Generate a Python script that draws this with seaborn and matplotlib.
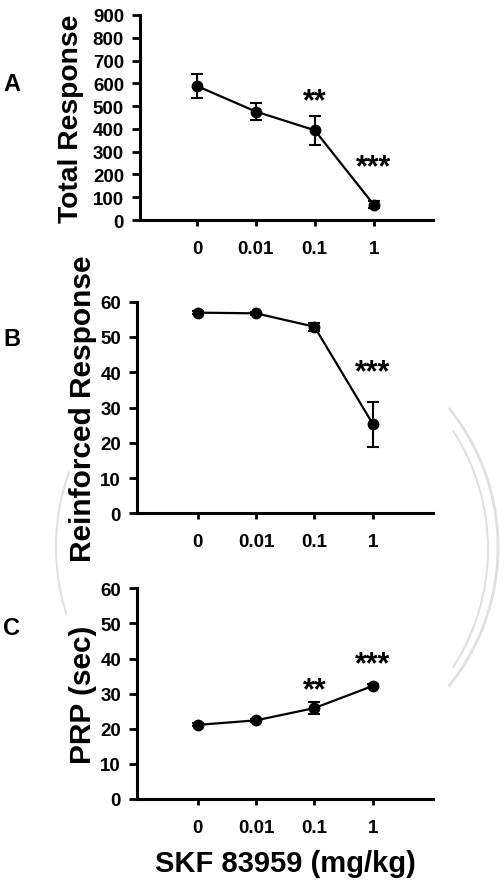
import numpy as np
import pandas as pd
import matplotlib.pyplot as plt
from matplotlib.patches import Arc
from matplotlib.transforms import IdentityTransform
import seaborn as sns

# doses (mg/kg) shown as equally spaced categories
doses = ["0", "0.01", "0.1", "1"]

# A: total responses (mean, SEM)
total_mean = [588, 476, 394, 68]
total_sem = [54, 37, 64, 15]
total_stars = ["", "", "**", "***"]
total_star_y = [0, 0, 487, 196]

# B: reinforced responses
reinf_mean = [56.9, 56.7, 52.9, 25.3]
reinf_sem = [0.4, 0.4, 1.2, 6.4]
reinf_stars = ["", "", "", "***"]
reinf_star_y = [0, 0, 0, 37.6]

# C: post-reinforcement pause
prp_mean = [21.1, 22.4, 25.9, 32.2]
prp_sem = [0.4, 0.5, 1.6, 0.6]
prp_stars = ["", "", "**", "***"]
prp_star_y = [0, 0, 28.8, 36.2]

sns.set_theme(style="ticks")
plt.rcParams['font.family'] = ['Liberation Sans', 'DejaVu Sans']
plt.rcParams['font.weight'] = 'bold'

W, H = 504, 887
fig = plt.figure(figsize=(W / 100, H / 100), dpi=100)

panels = [
    # letter, mean, sem, stars, star_y, ylabel, ymax, ystep, rect(px: left, top, right, bottom), xlim, label_x, label_size, letter_y
    ("A", total_mean, total_sem, total_stars, total_star_y, "Total Response", 900, 100,
     (140, 16, 433, 221), (-0.97, 4.01), -0.19, 20.3, 84.5),
    ("B", reinf_mean, reinf_sem, reinf_stars, reinf_star_y, "Reinforced Response", 60, 10,
     (137, 302.7, 433, 514.3), (-1.04, 4.03), -0.135, 21.5, 340),
    ("C", prp_mean, prp_sem, prp_stars, prp_star_y, "PRP (sec)", 60, 10,
     (137, 589.3, 433, 800), (-1.04, 4.03), -0.135, 21.5, 629),
]

axes = []
for letter, mean, sem, stars, star_y, ylab, ymax, ystep, rect, xlim, lab_x, lab_size, let_y in panels:
    l, t, r, b = rect
    ax = fig.add_axes([l / W, (H - b) / H, (r - l) / W, (b - t) / H])
    df = pd.DataFrame({"pos": np.arange(len(doses)), "mean": mean, "sem": sem})
    ax.errorbar(df["pos"], df["mean"], yerr=df["sem"], fmt="none", ecolor="black",
                elinewidth=1.5, capsize=4.5, capthick=1.5, zorder=2)
    sns.lineplot(data=df, x="pos", y="mean", ax=ax, color="black", linewidth=1.6,
                 marker="o", markersize=8.5, markeredgewidth=0, zorder=3)
    for i, s in enumerate(stars):
        if s:
            ax.text(df["pos"][i], star_y[i], s, ha="center", va="baseline",
                    fontsize=22, fontweight="bold", color="black")
    ax.set_xlim(*xlim)
    ax.set_ylim(0, ymax)
    ax.set_yticks(np.arange(0, ymax + 1, ystep))
    ax.set_xticks(df["pos"])
    ax.set_xticklabels(doses)
    ax.set_xlabel("")
    ax.set_ylabel(ylab, fontsize=lab_size, fontweight="bold", color="black")
    ax.yaxis.set_label_coords(lab_x, 0.5)
    sns.despine(ax=ax)
    for side in ["left", "bottom"]:
        ax.spines[side].set_linewidth(2.2)
        ax.spines[side].set_color("black")
    ax.tick_params(axis="y", direction="out", length=5.5, width=2, pad=6,
                   labelsize=13.5, colors="black")
    ax.tick_params(axis="x", direction="out", length=4.5, width=2, pad=10,
                   labelsize=13.5, colors="black")
    for lbl in ax.get_xticklabels() + ax.get_yticklabels():
        lbl.set_fontweight("bold")
    fig.text(3 / W, (H - let_y) / H, letter, ha="left", va="center",
             fontsize=17, fontweight="bold", color="black")
    axes.append(ax)

axes[-1].set_xlabel("SKF 83959 (mg/kg)", fontsize=21, fontweight="bold",
                    color="black", labelpad=9)

# faint grey arcs in the background of the original figure
for cx, cy, rad, t1, t2, lw in [(277, 548, 221, -39, 39, 2), (270, 550, 218, -33, 33, 1.5),
                                (277, 548, 221, 160, 198, 1.5)]:
    fig.add_artist(Arc((cx, H - cy), 2 * rad, 2 * rad, theta1=t1, theta2=t2,
                       transform=IdentityTransform(), color="#e0e0e0",
                       linewidth=lw, zorder=0))

fig.savefig("out.png", dpi=100)
